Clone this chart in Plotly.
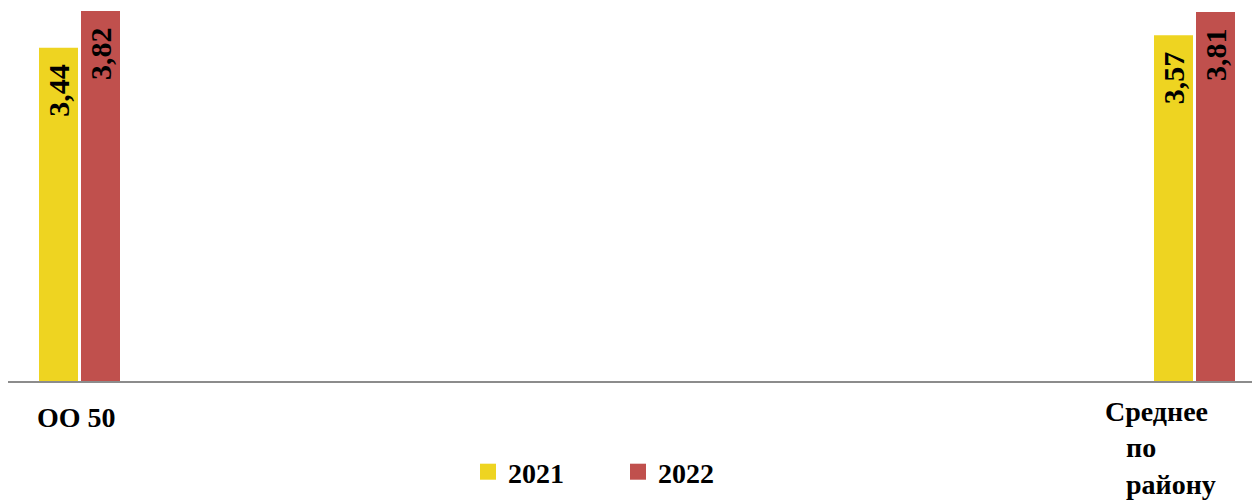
import plotly.graph_objects as go

# Data
categories = ["ОО 50", "Среднее по району"]
category_lines = [["ОО 50"], ["Среднее", "по", "району"]]
years = ["2021", "2022"]
values_2021 = [3.44, 3.57]
values_2022 = [3.82, 3.81]

colors = {"2021": "#EED421", "2022": "#C0504D"}
serif = "Liberation Serif"

W, H = 1252, 501
ML, MR, MT, MB = 8, 0, 0, 120
plot_h = H - MT - MB

x_pos = list(range(len(categories)))
series = {"2021": values_2021, "2022": values_2022}

fig = go.Figure()
for yr in years:
    fig.add_trace(go.Bar(
        x=x_pos, y=series[yr], name=yr,
        marker=dict(color=colors[yr], line=dict(width=0)),
        showlegend=False, hoverinfo="skip",
    ))
    # legend entry with a larger square swatch
    fig.add_trace(go.Scatter(
        x=[None], y=[None], name=yr, mode="markers",
        marker=dict(symbol="square", size=16, color=colors[yr]),
        showlegend=True,
    ))

annotations = []
# value labels, rotated, inside the top of each bar
bar_shift = {"2021": -21, "2022": 21}
for yr in years:
    for i, v in enumerate(series[yr]):
        annotations.append(dict(
            x=x_pos[i], y=v, xref="x", yref="y",
            text="<b>" + f"{v:.2f}".replace(".", ",") + "</b>",
            textangle=-90, showarrow=False,
            xanchor="center", yanchor="top",
            xshift=bar_shift[yr], yshift=-14,
            font=dict(family=serif, size=30, color="black"),
        ))

# category labels under the axis
annotations.append(dict(
    x=x_pos[0], y=(MT + plot_h - 417) / plot_h, xref="x", yref="paper",
    text="<b>" + "<br>".join(category_lines[0]) + "</b>",
    showarrow=False, xanchor="center", yanchor="middle", xshift=-3.5,
    font=dict(family=serif, size=28, color="black"),
))
indent = "\u00a0" * 3
lines2 = category_lines[1]
annotations.append(dict(
    x=x_pos[1], y=(MT + plot_h - 448) / plot_h, xref="x", yref="paper",
    text="<b>" + "<br>".join([lines2[0]] + [indent + s for s in lines2[1:]]) + "</b>",
    showarrow=False, xanchor="left", yanchor="middle", align="left", xshift=-92,
    font=dict(family=serif, size=28, color="black"),
))

px_per_unit = 1115.0
c0 = 79.5
x0 = -(c0 - ML) / px_per_unit
x1 = (W - MR - c0) / px_per_unit
ymax = 3.82 * plot_h / 370.0

fig.update_layout(
    width=W, height=H,
    margin=dict(l=ML, r=MR, t=MT, b=MB, pad=0),
    paper_bgcolor="white", plot_bgcolor="white",
    barmode="group", bargap=1 - 84 / px_per_unit, bargroupgap=3 / 42,
    xaxis=dict(range=[x0, x1], showline=True, linecolor="#8c8c8c", linewidth=2,
               showticklabels=False, showgrid=False, zeroline=False, ticks=""),
    yaxis=dict(range=[0, ymax], showline=False, showticklabels=False,
               showgrid=False, zeroline=False, ticks=""),
    showlegend=True,
    legend=dict(orientation="h", x=(468 - ML) / (W - ML - MR), xanchor="left",
                y=(plot_h - 447) / plot_h, yanchor="top",
                font=dict(family=serif, size=28, color="black", weight="bold"),
                entrywidth=105, entrywidthmode="pixels",
                bgcolor="rgba(0,0,0,0)"),
    annotations=annotations,
    font=dict(family=serif),
)

fig.write_html("out.html")
